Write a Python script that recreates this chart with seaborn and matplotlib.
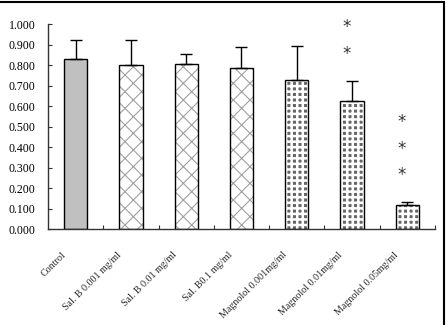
import matplotlib
matplotlib.use("Agg")
import matplotlib.pyplot as plt
import matplotlib.transforms as mtransforms
from matplotlib.lines import Line2D
import numpy as np
import pandas as pd
import seaborn as sns

# data
groups = ["Control", "Sal. B 0.001 mg/ml", "Sal. B 0.01 mg/ml", "Sal. B0.1 mg/ml",
          "Magnolol 0.001mg/ml", "Magnolol 0.01mg/ml", "Magnolol 0.05mg/ml"]
means = [0.830, 0.800, 0.803, 0.788, 0.728, 0.625, 0.120]
sd = [0.090, 0.122, 0.050, 0.098, 0.165, 0.095, 0.010]
kind = ["control", "salb", "salb", "salb", "mag", "mag", "mag"]
# significance stars: group index and height of each star
star_group = [5, 5, 6, 6, 6]
star_y = [0.985, 0.855, 0.522, 0.390, 0.262]
yticks = [0.0, 0.1, 0.2, 0.3, 0.4, 0.5, 0.6, 0.7, 0.8, 0.9, 1.0]

df = pd.DataFrame({"group": groups, "mean": means})

sns.set_style("white")
plt.rcParams["font.family"] = ["Liberation Serif", "DejaVu Serif"]
plt.rcParams["hatch.linewidth"] = 0.8

fig = plt.figure(figsize=(4.46, 3.25), dpi=100)
ax = fig.add_axes([0.1076, 0.295, 0.8677, 0.631])

sns.barplot(data=df, x="group", y="mean", errorbar=None, width=0.42, ax=ax,
            color="white")

# face, hatch, hatch colour, hatch width
styles = {"control": ("#c0c0c0", None, "#c0c0c0", 0.8),
          "salb": ("white", "xx", "#a0a0a0", 0.8),
          "mag": ("#666666", "+++", "white", 1.8)}
for patch, k in zip(ax.patches, kind):
    face, hatch, hcol, hlw = styles[k]
    patch.set_facecolor(face)
    patch.set_hatch(hatch)
    patch.set_edgecolor(hcol)
    patch.set_linewidth(0)
    if hasattr(patch, "set_hatch_linewidth"):
        patch.set_hatch_linewidth(hlw)

xpos = np.arange(len(groups))
# outlines on top of the hatching
ax.bar(xpos, means, width=0.42, fill=False, edgecolor="black", linewidth=1.0)
ax.errorbar(xpos, means, yerr=[np.zeros(len(sd)), sd], fmt="none",
            ecolor="black", elinewidth=1.0, capsize=4, capthick=1.0)

for g, y in zip(star_group, star_y):
    ax.text(g - 0.1, y, "*", ha="center", va="center", fontsize=12,
            color="#333333", family="DejaVu Sans")

ax.set_xlim(-0.5, len(groups) - 0.5)
ax.set_ylim(0, 1.0)
ax.set_yticks(yticks)
ax.set_yticklabels(["%.3f" % v for v in yticks], fontsize=8.5)
ax.tick_params(axis="y", direction="in", length=3, width=0.8, pad=9,
               left=True, colors="#333333", labelcolor="black")
ax.set_xticks(xpos)
ax.set_xticklabels([])
ax.set_xticks(np.arange(0.5, len(groups), 1), minor=True)
ax.tick_params(axis="x", which="major", length=0)
ax.tick_params(axis="x", which="minor", direction="in", length=3, width=0.8,
               bottom=True, color="#333333")
ax.set_xlabel("")
ax.set_ylabel("")
for side in ["top", "right"]:
    ax.spines[side].set_visible(False)
for side in ["left", "bottom"]:
    ax.spines[side].set_color("#333333")
    ax.spines[side].set_linewidth(1.0)

# rotated category labels, Excel style
base = mtransforms.blended_transform_factory(ax.transData, ax.transAxes)
shift = mtransforms.ScaledTranslation(-0.14, -0.21, fig.dpi_scale_trans)
for x, name in zip(xpos, groups):
    ax.text(x, 0, name, transform=base + shift, rotation=45,
            rotation_mode="anchor", ha="right", va="top", fontsize=7.2)

# frame round the figure (top and right show in the reference)
fig.add_artist(Line2D([0, 0.995], [0.994, 0.994], color="black", lw=1.5,
                      transform=fig.transFigure))
fig.add_artist(Line2D([0.995, 0.995], [0, 0.994], color="black", lw=1.5,
                      transform=fig.transFigure))

fig.savefig("out.png", dpi=100)
